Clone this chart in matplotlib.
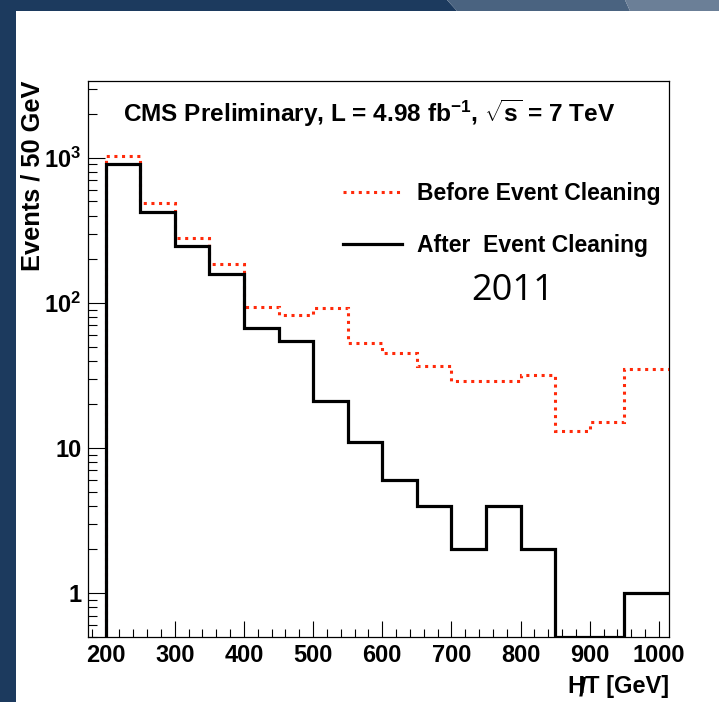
import numpy as np
import matplotlib
matplotlib.use("Agg")
import matplotlib.pyplot as plt
from matplotlib.lines import Line2D
from matplotlib.patches import Polygon
from matplotlib.ticker import FixedLocator, MultipleLocator, NullFormatter

plt.rcParams['font.family'] = ['Liberation Sans', 'DejaVu Sans']
plt.rcParams['mathtext.fontset'] = 'custom'
plt.rcParams['mathtext.rm'] = 'Liberation Sans:bold'
plt.rcParams['mathtext.bf'] = 'Liberation Sans:bold'
plt.rcParams['mathtext.it'] = 'Liberation Sans:bold'

# HT binning (50 GeV bins) and event counts
bin_edges = np.arange(200, 1051, 50)
events_before = [1033, 491, 282, 184, 94, 83, 92, 53, 45, 37, 29, 29, 32, 13, 15, 35, 35]
events_after = [906, 426, 245, 159, 67, 55, 21, 11, 6, 4, 2, 4, 2, 0, 0, 1, 1]

x_ticks = [200, 300, 400, 500, 600, 700, 800, 900, 1000]
y_ticks = [1, 10, 100, 1000]
y_tick_labels = ['1', '10', r'$\mathbf{10^{2}}$', r'$\mathbf{10^{3}}$']

legend_labels = ['Before Event Cleaning', 'After  Event Cleaning']
title_text = r'CMS Preliminary, L = 4.98 fb$^{\mathbf{-1}}$, $\sqrt{\mathbf{s}}$ = 7 TeV'

X_MIN, X_MAX = 175, 1015
Y_MIN, Y_MAX = 0.5, 3400

W, H = 719, 702
fig = plt.figure(figsize=(W / 100, H / 100), dpi=100, facecolor='white')

# slide-style frame: dark strip on the left, banded strip along the top
navy = '#1c3a5e'
fig.add_artist(Polygon([(0, 0), (16 / W, 0), (16 / W, 1), (0, 1)],
                       closed=True, transform=fig.transFigure, color=navy, lw=0))
top_bands = [
    ([(0, 1), (447 / W, 1), (457 / W, 1 - 11 / H), (0, 1 - 11 / H)], navy),
    ([(447 / W, 1), (625 / W, 1), (630 / W, 1 - 11 / H), (457 / W, 1 - 11 / H)], '#4a6380'),
    ([(625 / W, 1), (1, 1), (1, 1 - 11 / H), (630 / W, 1 - 11 / H)], '#6b7f97'),
]
for pts, col in top_bands:
    fig.add_artist(Polygon(pts, closed=True, transform=fig.transFigure, color=col, lw=0))

ax = fig.add_axes([88.3 / W, 1 - 636.7 / H, (669.3 - 88.3) / W, (636.7 - 80.7) / H])
ax.set_facecolor('white')
ax.set_yscale('log')
ax.set_xlim(X_MIN, X_MAX)
ax.set_ylim(Y_MIN, Y_MAX)

red = '#ff2a0a'
# empty bins are drawn along the lower edge of the plotted range
before_drawn = np.maximum(np.array(events_before, dtype=float), Y_MIN)
after_drawn = np.maximum(np.array(events_after, dtype=float), Y_MIN)
ax.stairs(before_drawn, bin_edges, baseline=Y_MIN, color=red, lw=2.2,
          linestyle=(0, (1, 1.5)), zorder=3)
ax.stairs(after_drawn, bin_edges, baseline=Y_MIN, color='black', lw=2.3, zorder=4)

# axes styling
for sp in ax.spines.values():
    sp.set_linewidth(0.9)
ax.xaxis.set_major_locator(FixedLocator(x_ticks))
ax.xaxis.set_minor_locator(MultipleLocator(20))
ax.yaxis.set_major_locator(FixedLocator(y_ticks))
ax.set_yticklabels(y_tick_labels)
ax.yaxis.set_minor_formatter(NullFormatter())
ax.tick_params(axis='both', which='both', direction='in', top=False, right=False,
               width=0.8, labelsize=17)
ax.tick_params(axis='x', which='major', length=11.5, pad=5)
ax.tick_params(axis='x', which='minor', length=5.8)
ax.tick_params(axis='y', which='major', length=12.2, pad=5)
ax.tick_params(axis='y', which='minor', length=6.5)
for lab in ax.get_xticklabels() + ax.get_yticklabels():
    lab.set_fontweight('bold')

# y-axis title, right-aligned to the top of the frame
fig.text(33 / W, 1 - 81 / H, 'Events / 50 GeV', rotation=90, ha='center', va='top',
         fontsize=18.3, fontweight='bold')

xl = ax.set_xlabel('HT [GeV]', fontsize=17, fontweight='bold', loc='right')
ax.xaxis.set_label_coords(1.0, -0.069)
# slash across the H of the missing-HT symbol
ax.annotate('/', xy=(0, 0), xycoords=xl, xytext=(7.5, -1.5), textcoords='offset points',
            ha='left', va='bottom', fontsize=19, fontweight='bold', annotation_clip=False)

ax.text(0.483, 0.942, title_text, transform=ax.transAxes, ha='center', va='center',
        fontsize=17.6, fontweight='bold')

handles = [Line2D([], [], color=red, lw=2.2, linestyle=(0, (1, 1.5))),
           Line2D([], [], color='black', lw=2.3)]
leg = ax.legend(handles, legend_labels, loc='upper left', bbox_to_anchor=(0.438, 0.818),
                frameon=False, borderpad=0, borderaxespad=0, handlelength=2.6,
                handletextpad=0.65, labelspacing=1.25,
                prop={'weight': 'bold', 'size': 16.5})

ax.text(0.731, 0.622, '2011', transform=ax.transAxes, ha='center', va='center',
        fontsize=26, family='Open Sans')

fig.savefig('out.png', dpi=100, facecolor='white')
